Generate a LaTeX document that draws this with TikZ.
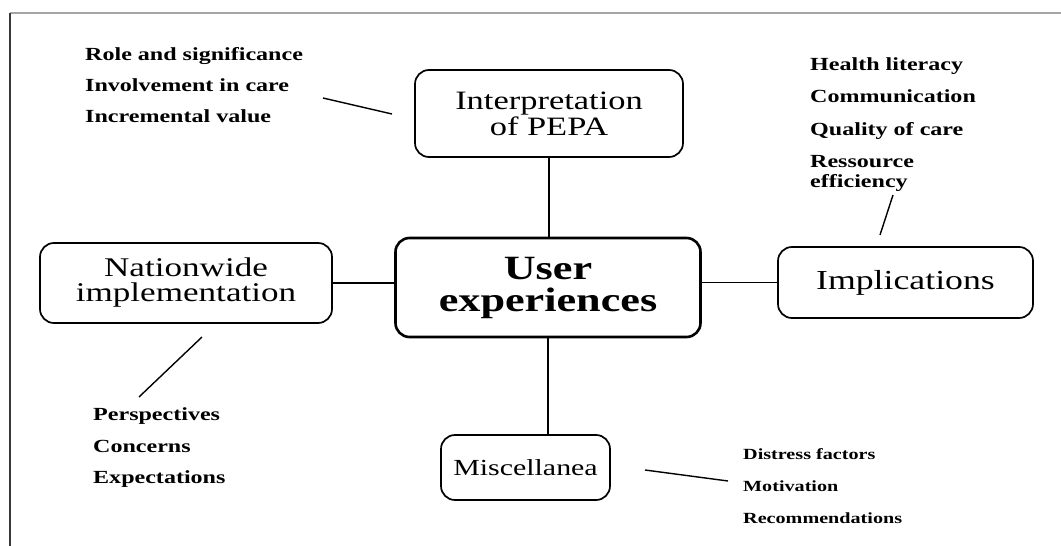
\documentclass[tikz,border=0pt]{standalone}
\usepackage{fontspec}
\setmainfont{Liberation Serif}[FakeStretch=1.3]
\usepackage{tikz}
\usetikzlibrary{positioning}
\definecolor{framegray}{RGB}{165,165,165}
\definecolor{framedark}{RGB}{55,55,55}
\tikzset{
  topicbox/.style={draw=black,line width=1.7pt,rounded corners=14pt,align=center,inner sep=0pt},
  corebox/.style={topicbox,line width=2.6pt,font=\fontsize{34}{32}\selectfont\bfseries},
  itemtext/.style={anchor=base west,inner sep=0pt,font=\fontsize{18.5}{20}\selectfont\bfseries},
  itemsmall/.style={itemtext,font=\fontsize{15.5}{18}\selectfont\bfseries},
  link/.style={line width=1.8pt},
  pointer/.style={line width=1.4pt}
}

\begin{document}
\begin{tikzpicture}[x=1pt,y=-1pt]

\useasboundingbox (0,0) rectangle (1061,546);

% frame
\draw[framegray,line width=2pt] (10,13) -- (1061,13);
\draw[framedark,line width=2pt] (10,13) -- (10,546);

% boxes
\node[corebox,minimum width=305pt,minimum height=99pt] (user) at (548,287.5)
  {User\\experiences};
\node[topicbox,minimum width=268pt,minimum height=87pt,
  font=\fontsize{26.5}{26}\selectfont] (interp) at (549,113.5)
  {Interpretation\\of PEPA};
\node[topicbox,minimum width=292pt,minimum height=80pt,
  font=\fontsize{27}{25}\selectfont] (nation) at (186,283)
  {Nationwide\\implementation};
\node[topicbox,minimum width=255pt,minimum height=71pt,
  font=\fontsize{27.5}{28}\selectfont] (impl) at (905.5,282.5)
  {Implications};
\node[topicbox,minimum width=169pt,minimum height=65pt,
  font=\fontsize{23}{26}\selectfont] (misc) at (525.5,467.5)
  {Miscellanea};

% links to the core
\draw[link] (interp.south) -- (interp.south |- user.north);
\draw[link] (user.south) -- (user.south |- misc.north);
\draw[link] (nation.east) -- (nation.east -| user.west);
\draw[link] (impl.west) -- (impl.west -| user.east);

% item lists
\node[itemtext] (role) at (85,60) {Role and significance};
\node[itemtext] (involve) at (85,91) {Involvement in care};
\node[itemtext] (increm) at (85,122) {Incremental value};

\node[itemtext] (health) at (810,70) {Health literacy};
\node[itemtext] (commun) at (810,102) {Communication};
\node[itemtext] (quality) at (810,135) {Quality of care};
\node[itemtext] (ressource) at (810,167) {Ressource};
\node[itemtext] (effic) at (810,187) {efficiency};

\node[itemtext] (persp) at (93,420) {Perspectives};
\node[itemtext] (concern) at (93,452) {Concerns};
\node[itemtext] (expect) at (93,483) {Expectations};

\node[itemsmall] (distress) at (743,459) {Distress factors};
\node[itemsmall] (motiv) at (743,491) {Motivation};
\node[itemsmall] (recomm) at (743,523) {Recommendations};

% pointers
\coordinate (interpA) at (323,98);
\coordinate (interpB) at (392,114);
\coordinate (implA) at (893,195);
\coordinate (implB) at (880,235);
\coordinate (nationA) at (202,337);
\coordinate (nationB) at (139,397);
\coordinate (miscA) at (645,470);
\coordinate (miscB) at (728,481);

\draw[pointer] (interpA) -- (interpB);
\draw[pointer] (implA) -- (implB);
\draw[pointer] (nationA) -- (nationB);
\draw[pointer] (miscA) -- (miscB);

\end{tikzpicture}
\end{document}
